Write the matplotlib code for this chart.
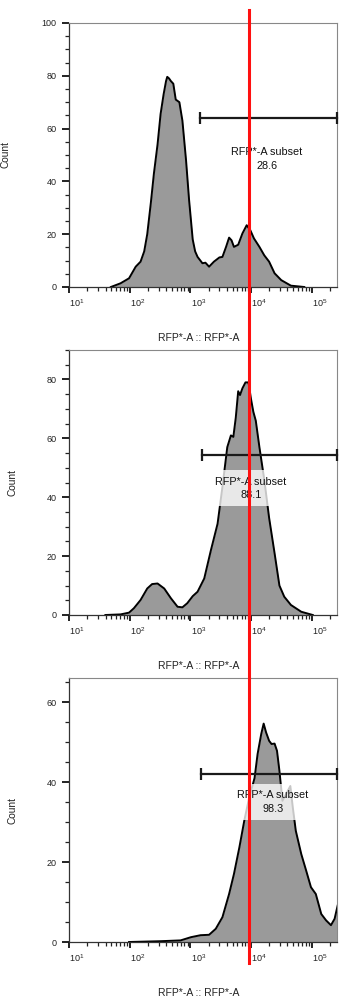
"""
Three stacked RFP*-A flow histograms with a shared red marker line
"""
import matplotlib
matplotlib.use('Agg')
import matplotlib.pyplot as plt
import matplotlib.transforms as mtransforms
from matplotlib.lines import Line2D
from matplotlib.ticker import LogLocator, MultipleLocator, NullFormatter
import numpy as np

plt.rcParams['font.family'] = ['Liberation Sans', 'DejaVu Sans']

# histogram curves: log10(RFP*-A) and count
p1_log = [1.69, 1.85, 1.99, 2.10, 2.18, 2.24, 2.29, 2.35, 2.40, 2.46, 2.51, 2.56,
          2.60, 2.62, 2.65, 2.68, 2.72, 2.76, 2.82, 2.87, 2.93, 2.98, 3.04, 3.08,
          3.12, 3.20, 3.25, 3.31, 3.39, 3.48, 3.53, 3.59, 3.64, 3.68, 3.72, 3.79,
          3.86, 3.93, 3.99, 4.05, 4.14, 4.22, 4.30, 4.39, 4.50, 4.66, 4.88]
p1_cnt = [0, 1.4, 3.3, 7.7, 9.6, 13.5, 20, 32, 43, 54, 65.5, 73,
          78, 79.6, 79, 78, 77, 71, 70, 63, 48, 33, 18, 13.5,
          11.4, 9, 9.2, 7.7, 9.6, 11.2, 11.4, 15.2, 18.7, 17.7, 15.2, 16,
          20.3, 23.4, 21.5, 18.4, 15.2, 12, 9.6, 5.2, 2.6, 0.5, 0]

p2_log = [1.60, 1.85, 1.99, 2.07, 2.18, 2.29, 2.37, 2.46, 2.57, 2.68, 2.79, 2.87,
          2.95, 3.04, 3.12, 3.23, 3.34, 3.45, 3.53, 3.61, 3.67, 3.71, 3.75, 3.79,
          3.82, 3.86, 3.91, 3.96, 4.00, 4.04, 4.08, 4.14, 4.22, 4.30, 4.39, 4.47,
          4.55, 4.66, 4.83, 5.02]
p2_cnt = [0, 0.2, 0.8, 2.3, 5.1, 9, 10.5, 10.7, 9, 5.7, 2.8, 2.6,
          4, 6.4, 7.9, 12.4, 22, 31, 43.5, 57, 61, 60.5, 67, 76,
          74.7, 77, 79, 79, 73.5, 69, 66, 57, 46, 33, 21, 10,
          6.2, 3.4, 1.1, 0]

p3_log = [1.99, 2.51, 2.84, 3.01, 3.17, 3.31, 3.42, 3.53, 3.64, 3.72, 3.81, 3.89,
          3.97, 4.06, 4.11, 4.17, 4.21, 4.25, 4.30, 4.34, 4.39, 4.43, 4.47, 4.52,
          4.58, 4.65, 4.69, 4.74, 4.83, 4.91, 4.99, 5.07, 5.16, 5.24, 5.32, 5.38,
          5.43]
p3_cnt = [0, 0.2, 0.4, 1.2, 1.7, 1.8, 3.3, 6.2, 12, 17, 23.7, 30.3,
          36, 41, 47, 52, 54.6, 52.4, 50.3, 49.5, 49.6, 47.8, 42.8, 35.3,
          37, 39, 33.7, 27.8, 22, 17.9, 13.7, 12, 7, 5.4, 4.2, 5.8,
          9.1]

y_max = [100, 90, 66]
gate_lo = [1440, 1550, 1480]
gate_hi = 262144
gate_y = [64, 54.2, 42]
gate_pct = ['28.6', '88.1', '98.3']
label_x = [18200, 10000, 22900]
label_y = [48.5, 43, 35]
red_x = 9300

curves = [(p1_log, p1_cnt), (p2_log, p2_cnt), (p3_log, p3_cnt)]

fig = plt.figure(figsize=(3.4, 10), dpi=100)
# axes boxes in figure fraction (left, bottom, width, height)
boxes = [(0.203, 0.713, 0.788, 0.264),
         (0.203, 0.385, 0.788, 0.265),
         (0.203, 0.058, 0.788, 0.264)]
count_x = [-0.22, -0.194, -0.194]

offset = mtransforms.ScaledTranslation(0.08, 0, fig.dpi_scale_trans)

axes = []
for i, (lg, cnt) in enumerate(curves):
    ax = fig.add_axes(boxes[i])
    axes.append(ax)
    xs = 10 ** np.array(lg)
    ax.fill_between(xs, cnt, 0, color='#9a9a9a', lw=0, zorder=1)
    ax.plot(xs, cnt, color='black', lw=1.4, zorder=2, solid_joinstyle='round')

    ax.set_xscale('log')
    ax.set_xlim(10, 262144)
    ax.set_ylim(0, y_max[i])

    # gate bar with end caps
    ax.plot([gate_lo[i], gate_hi], [gate_y[i], gate_y[i]], color='#1a1a1a',
            lw=1.6, marker='|', markersize=9, mew=1.6, clip_on=False, zorder=3)
    ax.text(label_x[i], label_y[i], 'RFP*-A subset\n' + gate_pct[i],
            ha='center', va='center', fontsize=7.8, linespacing=1.4,
            color='#111111', zorder=4,
            bbox=dict(boxstyle='square,pad=0.6', facecolor='white',
                      alpha=0.78, edgecolor='none'))

    # ticks
    ax.set_xticks([10, 100, 1000, 10000, 100000])
    ax.set_xticklabels([r'$\mathregular{10^{%d}}$' % k for k in range(1, 6)])
    ax.xaxis.set_minor_locator(LogLocator(base=10, subs=np.arange(2, 10)))
    ax.xaxis.set_minor_formatter(NullFormatter())
    ax.yaxis.set_major_locator(MultipleLocator(20))
    ax.yaxis.set_minor_locator(MultipleLocator(5))
    ax.tick_params(axis='both', which='major', labelsize=6.5, color='#111111',
                   width=1.3, length=5.4, pad=3.5, labelcolor='#222222')
    ax.tick_params(axis='both', which='minor', width=0.9, length=2.8,
                   color='#222222')
    ax.tick_params(axis='x', which='major', length=4.5, pad=3)
    for lab in ax.get_xticklabels():
        lab.set_transform(lab.get_transform() + offset)

    for side in ['left', 'bottom']:
        ax.spines[side].set_color('#333333')
        ax.spines[side].set_linewidth(0.9)
    for side in ['top', 'right']:
        ax.spines[side].set_color('#888888')
        ax.spines[side].set_linewidth(0.8)

    ax.set_ylabel('Count', fontsize=7.3, color='#222222')
    ax.yaxis.set_label_coords(count_x[i], 0.5)
    ax.set_xlabel('RFP*-A :: RFP*-A', fontsize=7.5, color='#222222')
    ax.xaxis.set_label_coords(0.485, -0.174)

# red marker line across all three panels
fx = fig.transFigure.inverted().transform(
    axes[0].transData.transform((red_x, 0)))[0]
fig.add_artist(Line2D([fx, fx], [1 - 10 / 1000, 1 - 963 / 1000],
                      transform=fig.transFigure, color='#ff1010', lw=2.2,
                      zorder=10))

fig.savefig('out.png', dpi=100)
